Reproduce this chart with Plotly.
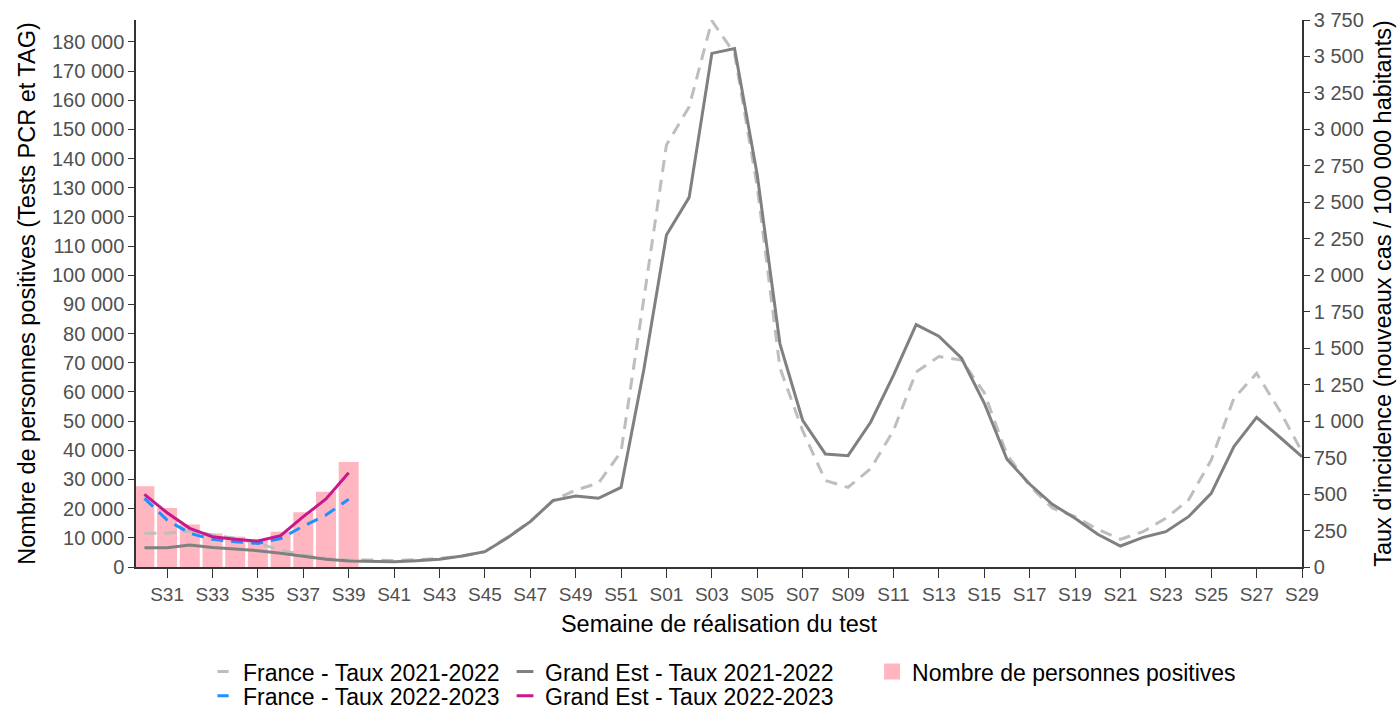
import plotly.graph_objects as go

weeks = [f"S{w}" for w in range(30, 53)] + [f"S{w:02d}" for w in range(1, 30)]

france_2122 = [231, 232, 247, 219, 197, 162, 117, 82, 60, 48, 48, 45, 50, 58, 75, 105, 205, 311, 455, 528,
               574, 790, 1835, 2893, 3155, 3745, 3520, 2607, 1365, 935, 593, 546, 675, 935, 1337, 1443,
               1419, 1195, 770, 557, 404, 345, 258, 190, 242, 334, 459, 733, 1156, 1328, 1076, 790]
ge_2122 = [132, 132, 151, 134, 123, 112, 94, 71, 53, 41, 37, 36, 43, 53, 75, 105, 201, 311, 455, 487,
           471, 546, 1350, 2276, 2534, 3521, 3555, 2687, 1530, 1006, 775, 763, 994, 1313, 1662, 1582,
           1431, 1124, 739, 569, 430, 334, 224, 144, 203, 242, 345, 505, 825, 1026, 893, 756]
weeks_2223 = weeks[:10]
france_2223 = [471, 322, 231, 190, 173, 162, 195, 280, 356, 464]
ge_2223 = [498, 372, 265, 208, 190, 178, 215, 345, 466, 646]
positives = [27700, 20200, 14600, 11500, 10400, 9200, 12100, 18800, 25800, 36000]

tick_weeks = weeks[1::2]

C_PINK = "#FFB6C1"
C_LGREY = "#BEBEBE"
C_DGREY = "#808080"
C_BLUE = "#1E90FF"
C_MAG = "#C8188C"
FONT = "Liberation Sans, Arial, sans-serif"

fig = go.Figure()
fig.add_trace(go.Bar(x=weeks_2223, y=positives, marker_color=C_PINK, marker_line_width=0,
                     width=0.88, showlegend=False, yaxis="y"))
fig.add_trace(go.Scatter(x=weeks, y=france_2122, mode="lines", yaxis="y2", showlegend=False,
                         line=dict(color=C_LGREY, width=3, dash="12px,8px")))
fig.add_trace(go.Scatter(x=weeks, y=ge_2122, mode="lines", yaxis="y2", showlegend=False,
                         line=dict(color=C_DGREY, width=3)))
fig.add_trace(go.Scatter(x=weeks_2223, y=france_2223, mode="lines", yaxis="y2", showlegend=False,
                         line=dict(color=C_BLUE, width=3, dash="12px,8px")))
fig.add_trace(go.Scatter(x=weeks_2223, y=ge_2223, mode="lines", yaxis="y2", showlegend=False,
                         line=dict(color=C_MAG, width=3)))


def leg(name, color, size, legend, symbol="line-ew"):
    if symbol == "line-ew":
        mk = dict(symbol="line-ew", size=size, line=dict(color=color, width=3), color=color)
    else:
        mk = dict(symbol=symbol, size=size, color=color, line=dict(width=0))
    fig.add_trace(go.Scatter(x=[None], y=[None], mode="markers", name=name, marker=mk,
                             legend=legend, yaxis="y2"))


leg("France - Taux 2021-2022", C_LGREY, 8, "legend")
leg("France - Taux 2022-2023", C_BLUE, 8, "legend2")
leg("Grand Est - Taux 2021-2022", C_DGREY, 12, "legend3")
leg("Grand Est - Taux 2022-2023", C_MAG, 12, "legend4")
leg("Nombre de personnes positives", C_PINK, 19, "legend5", symbol="square")

xtickfont = dict(family=FONT, size=19, color="#505050")
ytickfont = dict(family=FONT, size=20, color="#505050")
titlefont = dict(family=FONT, size=23.5, color="#000000")
legfont = dict(family=FONT, size=23, color="#000000")

ROW1 = -0.152
ROW2 = -0.196
COL1 = 0.0575
COL2 = 0.3165
COL3 = 0.6313


def legbox(x, y):
    return dict(x=x, y=y, xanchor="left", yanchor="top", orientation="v", font=legfont,
                bgcolor="rgba(0,0,0,0)", itemwidth=30, borderwidth=0)


fig.update_layout(
    width=1398, height=708,
    margin=dict(l=136, r=96, t=20, b=141, autoexpand=False),
    plot_bgcolor="white", paper_bgcolor="white",
    separators=", ",
    xaxis=dict(type="category", categoryorder="array", categoryarray=weeks,
               range=[-0.37, 51], tickmode="array", tickvals=tick_weeks, ticktext=tick_weeks,
               ticks="outside", ticklen=9, tickcolor="#333333", showline=True, linecolor="#333333",
               linewidth=1.5, showgrid=False, tickfont=xtickfont,
               title=dict(text="Semaine de réalisation du test", font=titlefont, standoff=12)),
    yaxis=dict(range=[0, 187500], tickvals=list(range(0, 190000, 10000)), tickformat=",d",
               ticks="outside", ticklen=6, tickcolor="#333333", showline=True, linecolor="#333333",
               linewidth=1.5, showgrid=False, zeroline=False, tickfont=ytickfont,
               title=dict(text="Nombre de personnes positives (Tests PCR et TAG)", font=titlefont,
                          standoff=10)),
    yaxis2=dict(range=[0, 3750], tickvals=list(range(0, 3751, 250)), tickformat=",d",
                overlaying="y", side="right", anchor="x",
                ticks="outside", ticklen=6, tickcolor="#333333", showline=True, linecolor="#333333",
                linewidth=1.5, showgrid=False, zeroline=False, tickfont=ytickfont,
                title=dict(text="Taux d'incidence (nouveaux cas / 100 000 habitants)", font=titlefont,
                           standoff=12)),
    legend=legbox(COL1, ROW1),
    legend2=legbox(COL1, ROW2),
    legend3=legbox(COL2, ROW1),
    legend4=legbox(COL2, ROW2),
    legend5=legbox(COL3, ROW1),
)

fig.write_html("out.html", config={"displayModeBar": False},
               post_script="document.body.style.margin='0';")
